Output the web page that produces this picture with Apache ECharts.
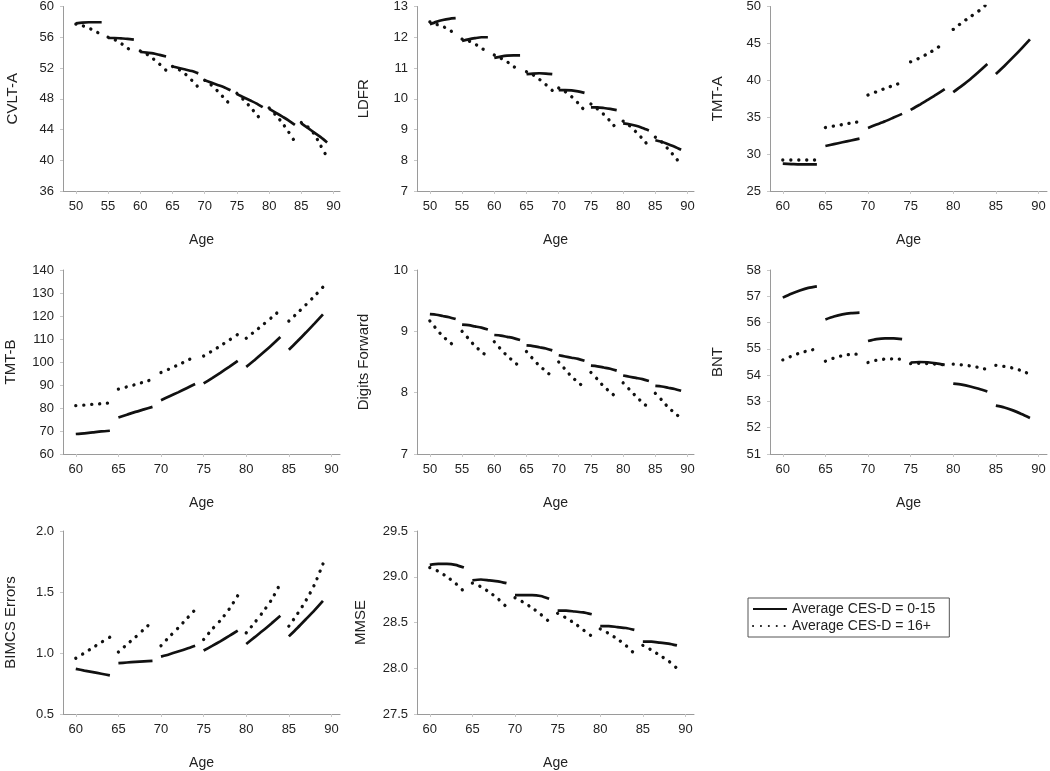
<!DOCTYPE html>
<html>
<head>
<meta charset="utf-8">
<script src="https://cdn.jsdelivr.net/npm/echarts@6/dist/echarts.min.js"></script>
<style>
  html, body { margin: 0; padding: 0; background: #fff; }
  #chart { width: 1050px; height: 771px; }
</style>
</head>
<body>
<div id="chart"></div>
<script>
// start age of each 5-year cohort
var startsA = [50, 55, 60, 65, 70, 75, 80, 85]
var startsB = [60, 65, 70, 75, 80, 85]
var xTicksA = [50, 55, 60, 65, 70, 75, 80, 85, 90]
var xTicksB = [60, 65, 70, 75, 80, 85, 90]

// each row = one cohort, values at start .. start+4
var cvltLow = [[57.8, 57.9, 57.95, 57.95, 57.95], [55.9, 55.9, 55.85, 55.8, 55.7], [54.1, 54.0, 53.9, 53.7, 53.5], [52.2, 52.0, 51.8, 51.6, 51.3], [50.4, 50.1, 49.8, 49.5, 49.1], [48.6, 48.2, 47.8, 47.4, 46.9], [46.7, 46.2, 45.7, 45.2, 44.6], [44.8, 44.2, 43.6, 43.0, 42.3]]
var cvltHigh = [[57.7, 57.5, 57.2, 56.8, 56.3], [56.0, 55.7, 55.2, 54.6, 54.0], [54.2, 53.8, 53.2, 52.5, 51.7], [52.2, 51.8, 51.2, 50.4, 49.5], [50.4, 49.8, 49.0, 48.1, 47.2], [48.7, 47.9, 47.0, 46.0, 45.0], [46.8, 45.9, 44.9, 43.7, 42.4], [44.9, 44.35, 43.4, 41.9, 40.4]]

var ldfrLow = [[12.42, 12.5, 12.56, 12.6, 12.62], [11.88, 11.93, 11.97, 12.0, 12.0], [11.33, 11.37, 11.4, 11.41, 11.41], [10.8, 10.82, 10.83, 10.82, 10.8], [10.28, 10.28, 10.27, 10.24, 10.19], [9.72, 9.72, 9.7, 9.67, 9.63], [9.2, 9.17, 9.12, 9.05, 8.97], [8.65, 8.6, 8.52, 8.44, 8.34]]
var ldfrHigh = [[12.5, 12.42, 12.35, 12.24, 12.1], [11.94, 11.88, 11.78, 11.65, 11.5], [11.42, 11.32, 11.2, 11.05, 10.88], [10.88, 10.78, 10.63, 10.46, 10.27], [10.35, 10.23, 10.07, 9.86, 9.62], [9.83, 9.67, 9.49, 9.27, 9.02], [9.27, 9.12, 8.92, 8.7, 8.45], [8.75, 8.59, 8.36, 8.12, 7.85]]

var tmtaLow = [[28.7, 28.65, 28.6, 28.6, 28.6], [31.1, 31.35, 31.6, 31.85, 32.1], [33.55, 34.0, 34.45, 34.95, 35.45], [36.0, 36.65, 37.35, 38.05, 38.8], [38.4, 39.25, 40.15, 41.15, 42.2], [40.85, 41.95, 43.1, 44.3, 45.55]]
var tmtaHigh = [[29.2, 29.2, 29.2, 29.2, 29.2], [33.6, 33.8, 34.0, 34.2, 34.4], [38.0, 38.45, 38.9, 39.3, 39.7], [42.5, 43.0, 43.6, 44.3, 45.1], [46.9, 47.8, 48.6, 49.4, 50.4]]

var tmtbLow = [[68.7, 69.0, 69.4, 69.8, 70.1], [75.9, 77.1, 78.3, 79.4, 80.5], [83.4, 85.1, 86.8, 88.6, 90.4], [90.7, 93.0, 95.4, 97.9, 100.5], [97.9, 100.9, 104.1, 107.4, 110.9], [105.3, 109.0, 112.8, 116.7, 120.7]]
var tmtbHigh = [[81.0, 81.3, 81.6, 81.9, 82.2], [88.2, 89.2, 90.2, 91.3, 92.4], [95.4, 97.0, 98.7, 100.5, 102.3], [102.6, 104.8, 107.1, 109.5, 112.0], [110.3, 113.3, 116.3, 119.4, 122.6], [117.8, 121.3, 124.9, 128.6, 132.6]]

var digitsLow = [[9.28, 9.27, 9.25, 9.23, 9.2], [9.11, 9.1, 9.08, 9.06, 9.03], [8.94, 8.93, 8.91, 8.89, 8.86], [8.77, 8.76, 8.74, 8.72, 8.69], [8.61, 8.59, 8.57, 8.55, 8.52], [8.44, 8.43, 8.41, 8.39, 8.36], [8.28, 8.26, 8.24, 8.22, 8.19], [8.11, 8.1, 8.08, 8.06, 8.03]]
var digitsHigh = [[9.17, 9.04, 8.92, 8.83, 8.74], [9.0, 8.88, 8.76, 8.67, 8.58], [8.83, 8.71, 8.6, 8.51, 8.42], [8.67, 8.55, 8.44, 8.35, 8.26], [8.5, 8.38, 8.26, 8.17, 8.08], [8.33, 8.22, 8.1, 8.01, 7.92], [8.16, 8.05, 7.94, 7.84, 7.75], [7.99, 7.88, 7.76, 7.67, 7.58]]

var bntLow = [[56.95, 57.1, 57.22, 57.32, 57.38], [56.12, 56.23, 56.31, 56.36, 56.38], [55.3, 55.37, 55.4, 55.4, 55.37], [54.48, 54.5, 54.49, 54.45, 54.39], [53.68, 53.64, 53.57, 53.48, 53.38], [52.84, 52.77, 52.66, 52.52, 52.37]]
var bntHigh = [[54.58, 54.72, 54.84, 54.93, 55.0], [54.53, 54.65, 54.74, 54.79, 54.8], [54.48, 54.57, 54.61, 54.62, 54.6], [54.44, 54.45, 54.44, 54.42, 54.39], [54.42, 54.39, 54.35, 54.29, 54.21], [54.37, 54.33, 54.27, 54.17, 54.03]]

var bimcsLow = [[0.87, 0.856, 0.843, 0.83, 0.817], [0.917, 0.922, 0.927, 0.932, 0.936], [0.97, 0.99, 1.012, 1.035, 1.06], [1.02, 1.058, 1.098, 1.14, 1.183], [1.074, 1.13, 1.186, 1.245, 1.305], [1.136, 1.205, 1.277, 1.35, 1.428]]
var bimcsHigh = [[0.957, 1.0, 1.044, 1.088, 1.13], [1.008, 1.07, 1.13, 1.195, 1.258], [1.06, 1.135, 1.205, 1.28, 1.355], [1.11, 1.195, 1.27, 1.36, 1.47], [1.165, 1.25, 1.34, 1.44, 1.57], [1.22, 1.32, 1.43, 1.56, 1.73]]

var mmseLow = [[29.13, 29.14, 29.14, 29.13, 29.1], [28.96, 28.97, 28.96, 28.95, 28.93], [28.8, 28.8, 28.8, 28.79, 28.76], [28.63, 28.63, 28.62, 28.61, 28.59], [28.46, 28.46, 28.45, 28.44, 28.42], [28.29, 28.29, 28.28, 28.27, 28.25]]
var mmseHigh = [[29.1, 29.06, 29.0, 28.93, 28.84], [28.93, 28.89, 28.83, 28.76, 28.67], [28.77, 28.72, 28.66, 28.59, 28.51], [28.6, 28.55, 28.49, 28.42, 28.35], [28.43, 28.38, 28.32, 28.25, 28.16], [28.25, 28.2, 28.14, 28.08, 28.0]]

var nameLow = 'Average CES-D = 0-15'
var nameHigh = 'Average CES-D = 16+'

var panels = [
    {name: 'CVLT-A', starts: startsA, low: cvltLow, high: cvltHigh, min: 36, max: 60, step: 4, gap: 43},
    {name: 'LDFR', starts: startsA, low: ldfrLow, high: ldfrHigh, min: 7, max: 13, step: 1, gap: 46},
    {name: 'TMT-A', starts: startsB, low: tmtaLow, high: tmtaHigh, min: 25, max: 50, step: 5, gap: 45},
    {name: 'TMT-B', starts: startsB, low: tmtbLow, high: tmtbHigh, min: 60, max: 140, step: 10, gap: 45},
    {name: 'Digits Forward', starts: startsA, low: digitsLow, high: digitsHigh, min: 7, max: 10, step: 1, gap: 46},
    {name: 'BNT', starts: startsB, low: bntLow, high: bntHigh, min: 51, max: 58, step: 1, gap: 45},
    {name: 'BIMCS Errors', starts: startsB, low: bimcsLow, high: bimcsHigh, min: 0.5, max: 2, step: 0.5, gap: 45, dec: 1},
    {name: 'MMSE', starts: startsB, low: mmseLow, high: mmseHigh, min: 27.5, max: 29.5, step: 0.5, gap: 49, dec: 1}
]

var colLeft = [63, 417, 770]
var rowTop = [5, 270, 531]
var rowH = [186, 184, 183]

function buildLine (starts, vals) {
    var out = []
    for (var g = 0; g < vals.length; g++) {
        for (var j = 0; j < vals[g].length; j++) {
            out.push([starts[g] + j, vals[g][j]])
        }
        out.push([starts[g] + 4.5, '-'])
    }
    return out
}

var font = 'Liberation Sans, Arial, sans-serif'
var grid = [], xAxis = [], yAxis = [], series = []

panels.forEach(function (p, i) {
    var col = i % 3, row = Math.floor(i / 3)
    grid.push({left: colLeft[col], top: rowTop[row], width: 277, height: rowH[row], containLabel: false})
    var ticks = p.starts[0] === 50 ? xTicksA : xTicksB
    xAxis.push({
        type: 'value', gridIndex: i,
        min: p.starts[0] === 50 ? 48 : 58.5, max: 91,
        name: 'Age', nameLocation: 'middle', nameGap: 42,
        nameTextStyle: {fontFamily: font, fontSize: 14, color: '#222'},
        axisLine: {show: true, lineStyle: {color: '#9a9a9a', width: 1}},
        axisTick: {show: true, length: 3, customValues: ticks, lineStyle: {color: '#c8c8c8'}},
        axisLabel: {customValues: ticks, margin: 9, fontFamily: font, fontSize: 13, color: '#222'},
        splitLine: {show: false}
    })
    yAxis.push({
        type: 'value', gridIndex: i,
        min: p.min, max: p.max, interval: p.step,
        name: p.name, nameLocation: 'middle', nameGap: p.gap,
        nameTextStyle: {fontFamily: font, fontSize: 15, color: '#222'},
        axisLine: {show: true, lineStyle: {color: '#9a9a9a', width: 1}},
        axisTick: {show: true, length: 3, lineStyle: {color: '#c8c8c8'}},
        axisLabel: {
            margin: 9, fontFamily: font, fontSize: 13, color: '#222',
            formatter: function (v) { return p.dec ? v.toFixed(p.dec) : String(v) }
        },
        splitLine: {show: false}
    })
    series.push({
        name: nameLow, type: 'line', xAxisIndex: i, yAxisIndex: i,
        data: buildLine(p.starts, p.low),
        showSymbol: false, symbol: 'none', smooth: 0.25, connectNulls: false,
        lineStyle: {color: '#111', width: 2.7, type: 'solid'},
        itemStyle: {color: '#111'},
        animation: false
    })
    series.push({
        name: nameHigh, type: 'line', xAxisIndex: i, yAxisIndex: i,
        data: buildLine(p.starts, p.high),
        showSymbol: false, symbol: 'none', smooth: 0.25, connectNulls: false,
        lineStyle: {color: '#111', width: 3.3, type: [0.1, 7.8], cap: 'round'},
        itemStyle: {color: '#111'},
        animation: false
    })
})

var chart = echarts.init(document.getElementById('chart'), null, {renderer: 'canvas'})
chart.setOption({
    backgroundColor: '#fff',
    animation: false,
    legend: {
        data: [nameLow, nameHigh],
        orient: 'vertical',
        left: 748, top: 598,
        itemWidth: 34, itemHeight: 12, itemGap: 3,
        padding: [4, 14, 4, 4],
        borderColor: '#555', borderWidth: 1,
        itemStyle: {opacity: 0},
        textStyle: {fontFamily: font, fontSize: 14, color: '#222'},
        selectedMode: false
    },
    grid: grid,
    xAxis: xAxis,
    yAxis: yAxis,
    series: series
})
</script>
</body>
</html>
